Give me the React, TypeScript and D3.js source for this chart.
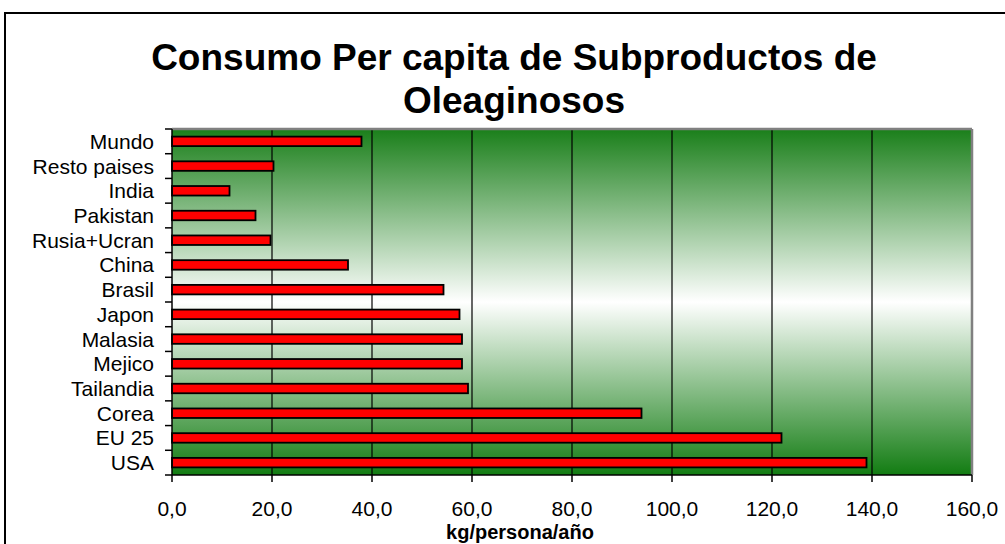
import React from "react";
import * as d3 from "d3";

const categories = [
  "Mundo", "Resto paises", "India", "Pakistan", "Rusia+Ucran", "China", "Brasil",
  "Japon", "Malasia", "Mejico", "Tailandia", "Corea", "EU 25", "USA",
];
const values = [37.9, 20.3, 11.5, 16.7, 19.7, 35.2, 54.3, 57.5, 58.0, 58.0, 59.2, 93.9, 121.9, 138.9];
const xTicks = [0, 20, 40, 60, 80, 100, 120, 140, 160];
const titleLines = ["Consumo Per capita de Subproductos de", "Oleaginosos"];
const xTitle = "kg/persona/año";

const W = 1005, H = 544;
const plot = { left: 172, right: 972, top: 129, bottom: 475 };
const font = "'Liberation Sans', Arial, Helvetica, sans-serif";

export default function App() {
  const x = d3.scaleLinear().domain([0, 160]).range([plot.left, plot.right]);
  const y = d3.scaleBand<string>().domain(categories).range([plot.top, plot.bottom]).paddingInner(0).paddingOuter(0);
  const bw = y.bandwidth();
  const barH = 9.5;
  const fmt = (v: number) => v.toFixed(1).replace(".", ",");
  const boundaries = d3.range(categories.length + 1).map((i) => plot.top + i * bw);

  return (
    <svg width={W} height={H} style={{ position: "absolute", left: 0, top: 0, background: "#fff" }} fontFamily={font}>
      <defs>
        <linearGradient id="bg" x1="0" y1="0" x2="0" y2="1">
          <stop offset="0" stopColor="#1a7f1a" />
          <stop offset="0.5" stopColor="#ffffff" />
          <stop offset="1" stopColor="#127c12" />
        </linearGradient>
      </defs>
      <rect x={5} y={13} width={1030} height={600} fill="#fff" stroke="#000" strokeWidth={2} />
      {titleLines.map((t, i) => (
        <text key={i} x={514} y={69.5 + i * 43.5} textAnchor="middle" fontSize={37} fontWeight="bold" fill="#000">
          {t}
        </text>
      ))}
      <rect x={plot.left} y={plot.top} width={plot.right - plot.left} height={plot.bottom - plot.top} fill="url(#bg)" />
      {xTicks.slice(1, -1).map((t) => (
        <line key={t} x1={x(t)} x2={x(t)} y1={plot.top} y2={plot.bottom} stroke="#000" strokeWidth={1.2} />
      ))}
      <line x1={plot.left} x2={plot.right} y1={plot.top} y2={plot.top} stroke="#808080" strokeWidth={2.5} />
      <line x1={plot.right} x2={plot.right} y1={plot.top} y2={plot.bottom} stroke="#808080" strokeWidth={2.5} />
      {categories.map((c, i) => {
        const cy = (y(c) as number) + bw / 2;
        return (
          <g key={c}>
            <rect x={x(0)} y={cy - barH / 2} width={x(values[i]) - x(0)} height={barH} fill="#ff0000" stroke="#000" strokeWidth={1.8} />
            <text x={154} y={cy + 7.5} textAnchor="end" fontSize={21} fill="#000">{c}</text>
          </g>
        );
      })}
      <line x1={plot.left} x2={plot.left} y1={plot.top} y2={plot.bottom} stroke="#000" strokeWidth={1.5} />
      <line x1={plot.left} x2={plot.right} y1={plot.bottom} y2={plot.bottom} stroke="#000" strokeWidth={1.5} />
      {boundaries.map((b, i) => (
        <line key={i} x1={165} x2={plot.left} y1={b} y2={b} stroke="#000" strokeWidth={1.5} />
      ))}
      {xTicks.map((t) => (
        <g key={t}>
          <line x1={x(t)} x2={x(t)} y1={plot.bottom} y2={plot.bottom + 7} stroke="#000" strokeWidth={1.5} />
          <text x={x(t)} y={516} textAnchor="middle" fontSize={21} fill="#000">{fmt(t)}</text>
        </g>
      ))}
      <text x={520} y={539} textAnchor="middle" fontSize={20} fontWeight="bold" fill="#000">{xTitle}</text>
    </svg>
  );
}
